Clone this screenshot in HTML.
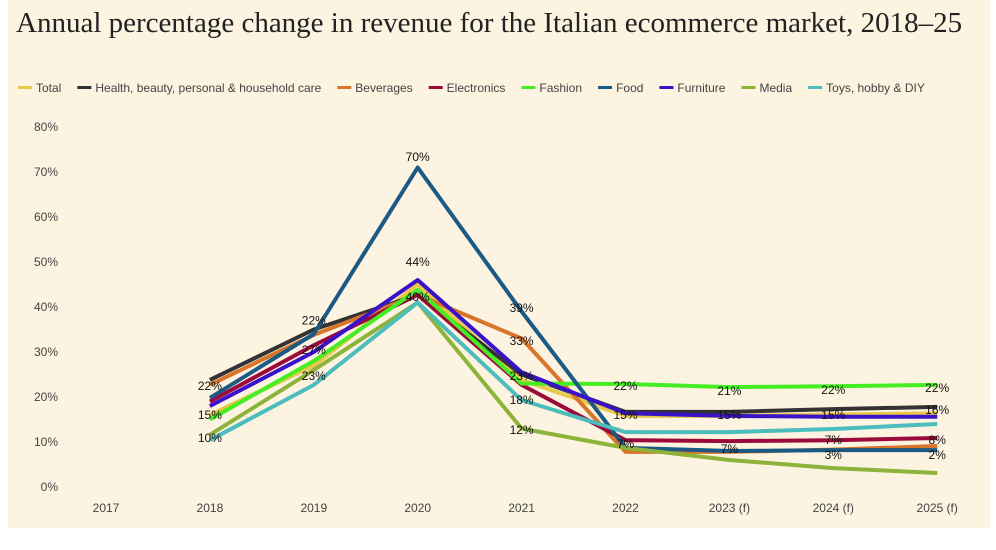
<!DOCTYPE html>
<html><head><meta charset="utf-8"><style>
body{margin:0;width:996px;height:550px;background:#fff;overflow:hidden;font-family:"Liberation Sans",sans-serif}
#bg{position:absolute;left:8px;top:0;width:982px;height:528px;background:#fcf3e0}
#title{position:absolute;left:16px;top:7px;font-family:"Liberation Serif",serif;font-size:29px;color:#222;white-space:nowrap;letter-spacing:0}
svg{position:absolute;left:0;top:0}
</style></head><body>
<div id="bg"></div>
<div id="title">Annual percentage change in revenue for the Italian ecommerce market, 2018–25</div>
<svg id="chart" width="996" height="550"></svg>
<script>
const categories=["2017","2018","2019","2020","2021","2022","2023 (f)","2024 (f)","2025 (f)"];
const yTicks=[0,10,20,30,40,50,60,70,80];
const seriesNames=["Total","Health, beauty, personal & household care","Beverages","Electronics","Fashion","Food","Furniture","Media","Toys, hobby & DIY"];
const seriesColors=["#e8c84a","#333333","#d9752a","#9b0a3a","#44ee22","#1a5a85","#3a12c8","#8db33a","#4dbcbc"];
const total=[null,16,27,45,23.8,15.8,15.8,16.1,16.4];
const health=[null,23.8,35,42.7,25,16.7,16.7,17.3,17.8];
const beverages=[null,22.7,33.8,42.7,33,7.8,7.8,8.3,9.1];
const electronics=[null,19,31.5,42.7,22.7,10.4,10.2,10.4,10.9];
const fashion=[null,15,28,43.8,23,22.9,22.2,22.4,22.7];
const food=[null,19.8,34,71,39,8.7,8,8.2,8.2];
const furniture=[null,18,30,46,25.5,16.4,15.8,15.6,15.6];
const media=[null,11.6,26,41,13,8.7,6,4.2,3.1];
const toys=[null,10.4,22.7,41,19.3,12.2,12.2,12.9,14];
const seriesData=[total,health,beverages,electronics,fashion,food,furniture,media,toys];
const labelIdx=[1,1,1,2,2,2,3,3,3,4,4,4,4,4,5,5,5,6,6,6,7,7,7,7,8,8,8,8];
const labelText=["22%","15%","10%","22%","27%","23%","70%","44%","40%","39%","33%","23%","18%","12%","22%","15%","7%","21%","15%","7%","22%","15%","7%","3%","22%","16%","8%","2%"];
const labelVal=[22.4,16,10.9,37,30.5,24.7,73.3,50,42.2,39.8,32.4,24.7,19.3,12.7,22.4,16,9.6,21.3,16,8.5,21.6,16,10.4,7.1,22,17.1,10.4,7.1];

const svg=document.getElementById('chart');
const NS='http://www.w3.org/2000/svg';
const x=i=>106+i*103.9;
const y=v=>487-v*4.5;
function mk(t,a){const e=document.createElementNS(NS,t);for(const k in a)e.setAttribute(k,a[k]);svg.appendChild(e);return e;}
yTicks.forEach(t=>{const e=mk('text',{x:58,y:y(t)+4,'font-size':12,fill:'#444','text-anchor':'end'});e.textContent=t+'%';

});
categories.forEach((c,i)=>{const e=mk('text',{x:x(i),y:512,'font-size':12,fill:'#444','text-anchor':'middle'});e.textContent=c;

});
seriesData.forEach((d,s)=>{let pts=[];d.forEach((v,i)=>{if(v!=null)pts.push(x(i)+','+y(v));});
const p=mk('polyline',{points:pts.join(' '),fill:'none',stroke:seriesColors[s],'stroke-width':4,'stroke-linejoin':'round'});

});
labelText.forEach((t,k)=>{const e=mk('text',{x:x(labelIdx[k]),y:y(labelVal[k])+4,'font-size':12,fill:'#111','text-anchor':'middle'});e.textContent=t;

});
let lx=18;
seriesNames.forEach((n,s)=>{const g=document.createElementNS(NS,'g');svg.appendChild(g);


const r=document.createElementNS(NS,'rect');r.setAttribute('x',lx);r.setAttribute('y',86);r.setAttribute('width',14);r.setAttribute('height',3);r.setAttribute('fill',seriesColors[s]);g.appendChild(r);
const t=document.createElementNS(NS,'text');t.setAttribute('x',lx+18);t.setAttribute('y',92);t.setAttribute('font-size',12);t.setAttribute('fill','#444');t.textContent=n;g.appendChild(t);
lx+=18+t.getComputedTextLength()+16;});
</script>
</body></html>
